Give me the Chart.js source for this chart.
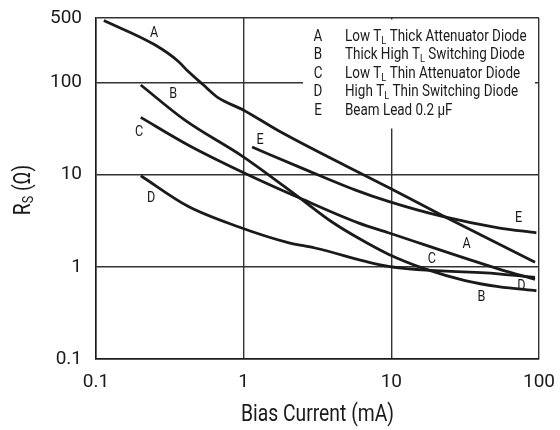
<!DOCTYPE html>
<html>
<head>
<meta charset="utf-8">
<script src="https://cdn.jsdelivr.net/npm/chart.js@4/dist/chart.umd.min.js"></script>
<style>
  html, body { margin: 0; padding: 0; background: #fff; }
  #wrap { width: 560px; height: 430px; position: relative; }
</style>
</head>
<body>
<div id="wrap"><canvas id="c" width="560" height="430"></canvas></div>
<script>
// ---- Data ----
const xTicks = [0.1, 1, 10, 100];
const yTicks = [0.1, 1, 10, 100, 500];

const seriesNames = ['A', 'B', 'C', 'D', 'E'];

const curveA_x = [0.113, 0.25, 0.36, 0.42, 0.53, 0.67, 1.0, 1.71, 9.65, 21.8, 94];
const curveA_y = [470, 256, 170, 132, 95, 68.5, 50, 30.1, 7.2, 3.65, 1.12];

const curveB_x = [0.201, 0.40, 1.0, 2.4, 3.92, 5.97, 9.55, 16.9, 31.6, 53, 96];
const curveB_y = [93.8, 39, 15.5, 5.57, 3.1, 2.05, 1.37, 0.95, 0.71, 0.61, 0.55];

const curveC_x = [0.201, 0.42, 1.0, 2.4, 5.97, 9.55, 53, 94];
const curveC_y = [41.8, 21, 10.5, 5.57, 3.0, 2.34, 0.95, 0.73];

const curveD_x = [0.201, 0.42, 0.918, 2.0, 3.04, 9.55, 53, 94];
const curveD_y = [9.73, 4.53, 2.72, 1.83, 1.6, 1.01, 0.84, 0.77];

const curveE_x = [1.14, 2.5, 5.67, 9.55, 21.8, 53, 96];
const curveE_y = [19.9, 11.7, 6.84, 5.12, 3.54, 2.65, 2.34];

// curve letter annotations (data coordinates)
const noteText = ['A', 'B', 'C', 'D', 'E', 'E', 'A', 'C', 'B', 'D'];
const noteX = [0.247, 0.333, 0.196, 0.236, 1.29, 72.6, 32.4, 18.8, 40.7, 76];
const noteY = [339, 75, 28.6, 5.61, 23.5, 3.34, 1.76, 1.21, 0.47, 0.62];

// legend (text in {} is subscript)
const legendLetters = ['A', 'B', 'C', 'D', 'E'];
const legendLabels = [
  'Low T{L} Thick Attenuator Diode',
  'Thick High T{L} Switching Diode',
  'Low T{L} Thin Attenuator Diode',
  'High T{L} Thin Switching Diode',
  'Beam Lead 0.2 \u00B5F'
];

const xTitle = 'Bias Current (mA)';
const yTitleMain = 'R';
const yTitleSub = 'S';
const yTitleRest = ' (\u03A9)';

// ---- Build chart ----
const FONT = "Roboto, 'Liberation Sans', sans-serif";
const INK = '#1a1a1a';
const SQUEEZE = 0.84; // emulate the condensed face of the original

function pts(xs, ys) { return xs.map((x, i) => ({ x: x, y: ys[i] })); }
const allX = [curveA_x, curveB_x, curveC_x, curveD_x, curveE_x];
const allY = [curveA_y, curveB_y, curveC_y, curveD_y, curveE_y];

const datasets = seriesNames.map((n, i) => ({
  label: n,
  data: pts(allX[i], allY[i]),
  showLine: true,
  borderColor: INK,
  borderWidth: 2.8,
  pointRadius: 0,
  cubicInterpolationMode: 'monotone',
  fill: false
}));

function squeezedText(ctx, str, x, y, size, align) {
  ctx.save();
  ctx.font = size + 'px ' + FONT;
  ctx.textAlign = 'left';
  const w = ctx.measureText(str).width * SQUEEZE;
  const sx = align === 'center' ? x - w / 2 : x;
  ctx.translate(sx, y);
  ctx.scale(SQUEEZE, 1);
  ctx.fillText(str, 0, 0);
  ctx.restore();
  return w;
}

function drawRich(ctx, str, x, y, size, subSize, subDy) {
  const parts = str.split(/\{(.*?)\}/);
  let cx = x;
  parts.forEach((p, i) => {
    if (!p) return;
    if (i % 2 === 1) cx += squeezedText(ctx, p, cx, y + subDy, subSize, 'left');
    else cx += squeezedText(ctx, p, cx, y, size, 'left');
  });
}

const decor = {
  id: 'decor',
  beforeDatasetsDraw(chart) {
    const ctx = chart.ctx, a = chart.chartArea;
    ctx.save();
    ctx.fillStyle = '#fff';
    ctx.fillRect(a.left + 207, a.top + 1.5, a.right - 4 - (a.left + 207), 109);
    ctx.restore();
  },
  afterDraw(chart) {
    const ctx = chart.ctx, a = chart.chartArea;
    const xs = chart.scales.x, ys = chart.scales.y;
    ctx.save();
    ctx.fillStyle = INK;
    ctx.textBaseline = 'middle';
    noteText.forEach((t, i) => {
      squeezedText(ctx, t, xs.getPixelForValue(noteX[i]), ys.getPixelForValue(noteY[i]), 15, 'center');
    });
    legendLetters.forEach((l, i) => {
      const y = a.top + 19 + i * 18.4;
      squeezedText(ctx, l, a.left + 222, y, 16, 'center');
      drawRich(ctx, legendLabels[i], a.left + 249, y, 16, 11, 4);
    });
    squeezedText(ctx, xTitle, (a.left + a.right) / 2, 415, 23, 'center');
    ctx.translate(24, 190);
    ctx.rotate(-Math.PI / 2);
    ctx.font = '23px ' + FONT;
    const w1 = ctx.measureText(yTitleMain).width * SQUEEZE;
    ctx.font = '15px ' + FONT;
    const w2 = ctx.measureText(yTitleSub).width * SQUEEZE;
    ctx.font = '23px ' + FONT;
    const w3 = ctx.measureText(yTitleRest).width * SQUEEZE;
    const sx = -(w1 + w2 + w3) / 2;
    squeezedText(ctx, yTitleMain, sx, 0, 23, 'left');
    squeezedText(ctx, yTitleSub, sx + w1, 5, 15, 'left');
    squeezedText(ctx, yTitleRest, sx + w1 + w2, 0, 23, 'left');
    ctx.restore();
  }
};

new Chart(document.getElementById('c'), {
  type: 'scatter',
  data: { datasets: datasets },
  options: {
    responsive: false,
    animation: false,
    events: [],
    layout: { padding: { left: 0, right: 21, top: 18, bottom: 0 } },
    plugins: { legend: { display: false }, tooltip: { enabled: false }, title: { display: false } },
    scales: {
      x: {
        type: 'logarithmic',
        min: 0.1, max: 100,
        afterBuildTicks: s => { s.ticks = xTicks.map(v => ({ value: v })); },
        afterFit: s => { s.height = 71; s.paddingLeft = 0; s.paddingRight = 0; },
        ticks: {
          autoSkip: false, maxRotation: 0, padding: 12,
          color: INK, font: { family: FONT, size: 19 },
          callback: v => String(v)
        },
        grid: { color: '#333', lineWidth: 1.4, drawTicks: false },
        border: { display: true, color: INK, width: 1.5 }
      },
      y: {
        type: 'logarithmic',
        min: 0.1, max: 500,
        afterBuildTicks: s => { s.ticks = yTicks.map(v => ({ value: v })); },
        afterFit: s => { s.width = 96; s.paddingTop = 0; s.paddingBottom = 0; },
        ticks: {
          autoSkip: false, padding: 14,
          color: INK, font: { family: FONT, size: 19 },
          callback: v => String(v)
        },
        grid: { color: '#333', lineWidth: 1.4, drawTicks: false },
        border: { display: true, color: INK, width: 1.5 }
      }
    }
  },
  plugins: [decor]
});
</script>
</body>
</html>
